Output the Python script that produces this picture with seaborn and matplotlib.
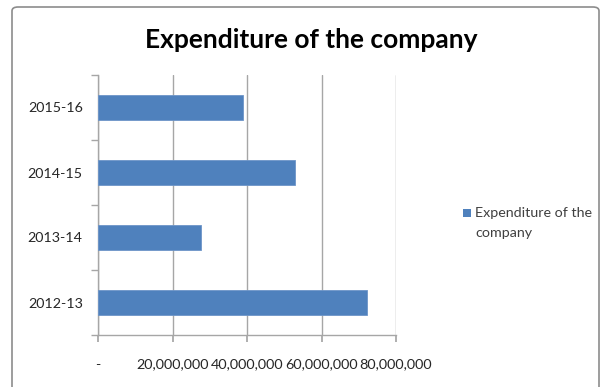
import matplotlib
matplotlib.use("Agg")
import matplotlib.pyplot as plt
import seaborn as sns
import pandas as pd
from matplotlib.patches import FancyBboxPatch, Rectangle
from matplotlib.ticker import FuncFormatter

years = ["2015-16", "2014-15", "2013-14", "2012-13"]
expenditure = [39_000_000, 53_000_000, 27_700_000, 72_300_000]
series_name = "Expenditure of the company"
title = "Expenditure of the company"

df = pd.DataFrame({"year": years, "value": expenditure})

sns.set_theme(style="white")
plt.rcParams["font.family"] = ["Lato", "DejaVu Sans"]

W, H = 611, 387
fig = plt.figure(figsize=(W / 100, H / 100), dpi=100)

# chart border
border = FancyBboxPatch((12 / W, -20 / H), 587 / W, (H - 7 + 20) / H,
                        boxstyle="round,pad=0,rounding_size=0.01",
                        transform=fig.transFigure, facecolor="white",
                        edgecolor="#8c8c8c", linewidth=1.2, zorder=-10)
fig.patches.append(border)

ax = fig.add_axes([98 / W, (H - 335) / H, (396 - 98) / W, (335 - 75) / H])
ax.set_facecolor("none")
ax.set_zorder(5)

sns.barplot(data=df, x="value", y="year", orient="h", order=years,
            color="#4F81BD", width=0.385, saturation=1,
            edgecolor="#6d95c8", linewidth=0.6, ax=ax, zorder=3)

ax.set_xlim(0, 80_000_000)
ax.set_ylim(3.5, -0.5)
ax.set_xticks([0, 20_000_000, 40_000_000, 60_000_000, 80_000_000])
ax.xaxis.set_major_formatter(FuncFormatter(lambda v, p: "-" if v == 0 else f"{int(v):,}"))
ax.xaxis.grid(True, color="#a6a6a6", linewidth=1.0, zorder=0)
ax.set_axisbelow(True)
ax.set_xlabel("")
ax.set_ylabel("")

for s in ["top", "right"]:
    ax.spines[s].set_visible(False)
for s in ["left", "bottom"]:
    ax.spines[s].set_color("#a6a6a6")
    ax.spines[s].set_linewidth(1.0)

# y ticks between categories (minor), labels at centers
ax.set_yticks([-0.5, 0.5, 1.5, 2.5, 3.5], minor=True)
ax.tick_params(axis="y", which="major", length=0, pad=11, labelsize=10.3, labelcolor="#262626")
ax.tick_params(axis="y", which="minor", length=5, color="#a6a6a6", direction="out", left=True)
ax.tick_params(axis="x", which="major", length=5, color="#a6a6a6", direction="out",
               pad=12, labelsize=10.4, labelcolor="#262626", bottom=True)

fig.text(311 / W, 1 - 40 / H, title, ha="center", va="center",
         fontsize=19, fontweight="bold", color="black")

# legend
fig.patches.append(Rectangle((463 / W, 1 - 217 / H), 8 / W, 8 / H,
                             transform=fig.transFigure, facecolor="#4F81BD",
                             edgecolor="none"))
fig.text(475 / W, 1 - 207 / H, "Expenditure of the\ncompany", ha="left", va="top",
         fontsize=10.3, color="#404040", linespacing=1.8)

fig.savefig("out.png", dpi=100)
